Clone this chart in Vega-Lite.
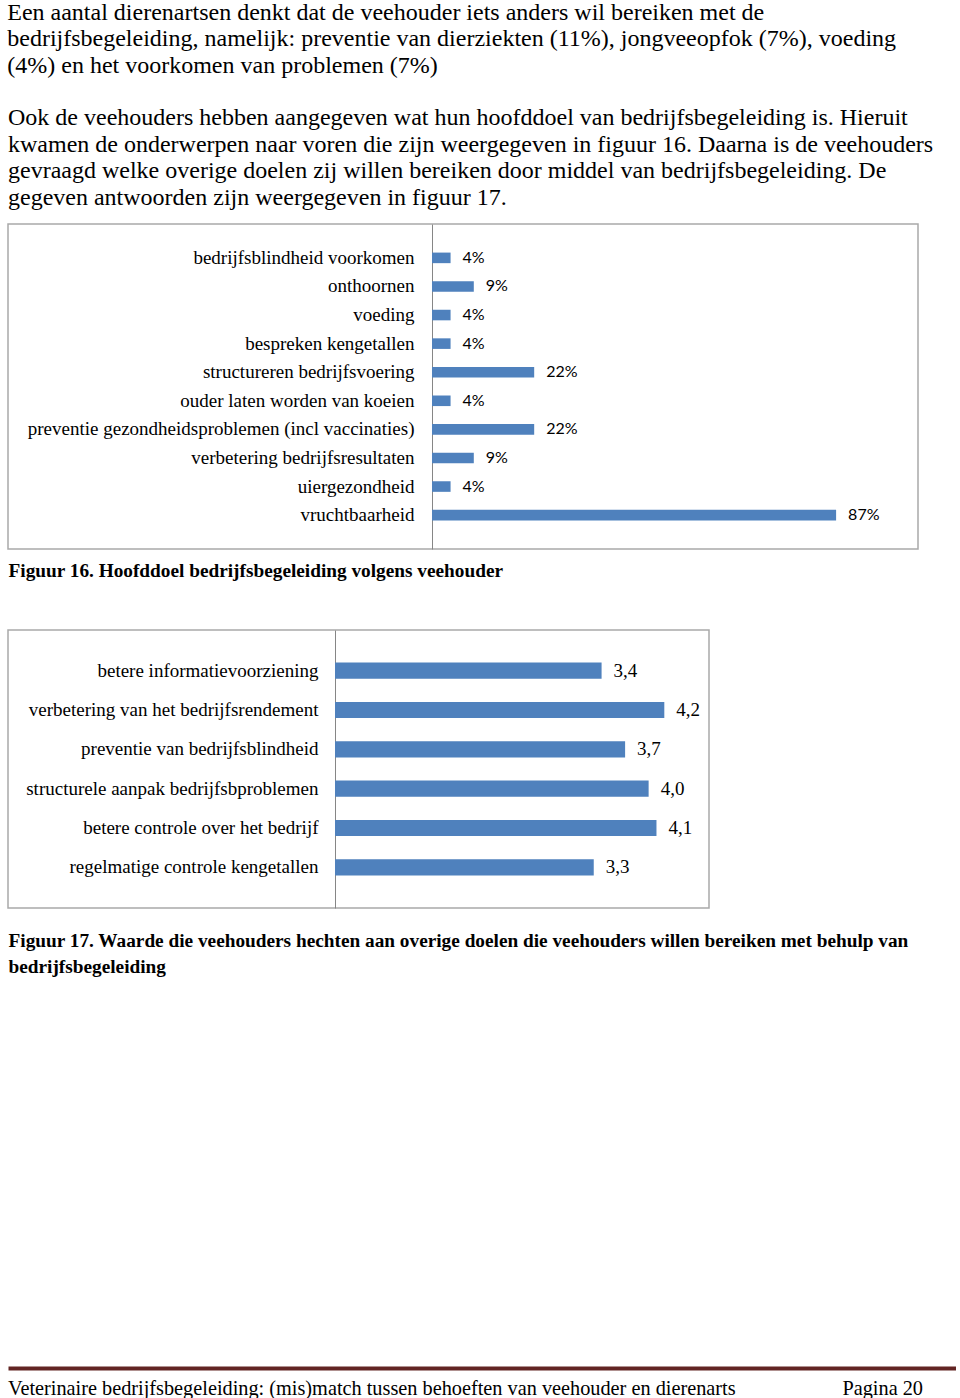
{
  "$schema": "https://vega.github.io/schema/vega-lite/v6.json",
  "background": "white",
  "padding": {"left": 7, "top": 0, "right": 0, "bottom": 0},
  "config": {
    "view": {"stroke": "#a9a9a9", "strokeWidth": 1.5},
    "font": "Liberation Serif"
  },
  "title": {
    "text": [
      "Een aantal dierenartsen denkt dat de veehouder iets anders wil bereiken met de",
      "bedrijfsbegeleiding, namelijk: preventie van dierziekten (11%), jongveeopfok (7%), voeding",
      "(4%) en het voorkomen van problemen (7%)"
    ],
    "anchor": "start",
    "font": "Liberation Serif",
    "fontSize": 24,
    "fontWeight": "normal",
    "lineHeight": 26.7,
    "color": "black",
    "offset": 27
  },
  "spacing": 47,
  "vconcat": [
    {
      "title": {
        "text": [
          "Ook de veehouders hebben aangegeven wat hun hoofddoel van bedrijfsbegeleiding is. Hieruit",
          "kwamen de onderwerpen naar voren die zijn weergegeven in figuur 16. Daarna is de veehouders",
          "gevraagd welke overige doelen zij willen bereiken door middel van bedrijfsbegeleiding. De",
          "gegeven antwoorden zijn weergegeven in figuur 17."
        ],
        "anchor": "start",
        "font": "Liberation Serif",
        "fontSize": 24,
        "fontWeight": "normal",
        "lineHeight": 26.7,
        "color": "black",
        "offset": 14
      },
      "width": 910,
      "height": 325,
      "data": {
        "values": [
          {"doel": "bedrijfsblindheid voorkomen", "pct": 4, "label": "4%"},
          {"doel": "onthoornen", "pct": 9, "label": "9%"},
          {"doel": "voeding", "pct": 4, "label": "4%"},
          {"doel": "bespreken kengetallen", "pct": 4, "label": "4%"},
          {"doel": "structureren bedrijfsvoering", "pct": 22, "label": "22%"},
          {"doel": "ouder laten worden van koeien", "pct": 4, "label": "4%"},
          {"doel": "preventie gezondheidsproblemen (incl vaccinaties)", "pct": 22, "label": "22%"},
          {"doel": "verbetering bedrijfsresultaten", "pct": 9, "label": "9%"},
          {"doel": "uiergezondheid", "pct": 4, "label": "4%"},
          {"doel": "vruchtbaarheid", "pct": 87, "label": "87%"}
        ]
      },
      "encoding": {
        "y": {
          "field": "doel",
          "type": "nominal",
          "sort": null,
          "scale": {"paddingInner": 0.63, "paddingOuter": 1.037},
          "axis": {
            "title": null,
            "offset": -424,
            "domainColor": "#868686",
            "domainWidth": 1,
            "ticks": false,
            "tickSize": 0,
            "labelPadding": 18,
            "labelFont": "Liberation Serif",
            "labelFontSize": 19,
            "labelColor": "black",
            "labelLimit": 600
          }
        },
        "x": {
          "field": "pct",
          "type": "quantitative",
          "scale": {"domain": [-91.28, 104.63], "nice": false, "zero": false},
          "axis": {
            "title": "Figuur 16. Hoofddoel bedrijfsbegeleiding volgens veehouder",
            "domain": false,
            "ticks": false,
            "labels": false,
            "grid": false,
            "titleAnchor": "start",
            "titleAlign": "left",
            "titleFont": "Liberation Serif",
            "titleFontSize": 19.3,
            "titleFontWeight": "bold",
            "titleColor": "black",
            "titlePadding": 12
          }
        }
      },
      "layer": [
        {"mark": {"type": "bar", "color": "#4f81bd"}, "encoding": {"x2": {"datum": 0}}},
        {
          "mark": {"type": "text", "align": "left", "baseline": "middle", "dx": 12, "font": "Lato", "fontSize": 16, "color": "black"},
          "encoding": {"text": {"field": "label"}}
        }
      ]
    },
    {
      "width": 701,
      "height": 278,
      "data": {
        "values": [
          {"doel": "betere informatievoorziening", "waarde": 3.4, "label": "3,4"},
          {"doel": "verbetering van het bedrijfsrendement", "waarde": 4.2, "label": "4,2"},
          {"doel": "preventie van bedrijfsblindheid", "waarde": 3.7, "label": "3,7"},
          {"doel": "structurele aanpak bedrijfsbproblemen", "waarde": 4.0, "label": "4,0"},
          {"doel": "betere controle over het bedrijf", "waarde": 4.1, "label": "4,1"},
          {"doel": "regelmatige controle kengetallen", "waarde": 3.3, "label": "3,3"}
        ]
      },
      "encoding": {
        "y": {
          "field": "doel",
          "type": "nominal",
          "sort": null,
          "scale": {"paddingInner": 0.59, "paddingOuter": 0.829},
          "axis": {
            "title": null,
            "offset": -327,
            "domainColor": "#868686",
            "domainWidth": 1,
            "ticks": false,
            "tickSize": 0,
            "labelPadding": 17,
            "labelFont": "Liberation Serif",
            "labelFontSize": 19,
            "labelColor": "black",
            "labelLimit": 600
          }
        },
        "x": {
          "field": "waarde",
          "type": "quantitative",
          "scale": {"domain": [-4.171, 4.77], "nice": false, "zero": false},
          "axis": {
            "title": [
              "Figuur 17. Waarde die veehouders hechten aan overige doelen die veehouders willen bereiken met behulp van",
              "bedrijfsbegeleiding"
            ],
            "domain": false,
            "ticks": false,
            "labels": false,
            "grid": false,
            "titleAnchor": "start",
            "titleAlign": "left",
            "titleFont": "Liberation Serif",
            "titleFontSize": 19.3,
            "titleFontWeight": "bold",
            "titleColor": "black",
            "titleLineHeight": 26,
            "titlePadding": 23
          }
        }
      },
      "layer": [
        {"mark": {"type": "bar", "color": "#4f81bd"}, "encoding": {"x2": {"datum": 0}}},
        {
          "mark": {"type": "text", "align": "left", "baseline": "middle", "dx": 12, "font": "Liberation Serif", "fontSize": 19, "color": "black"},
          "encoding": {"text": {"field": "label"}}
        }
      ]
    },
    {
      "title": {"text": " ", "fontSize": 2, "offset": 341},
      "width": 948,
      "height": 30,
      "view": {"stroke": null},
      "data": {
        "values": [
          {"pos": "links", "tekst": "Veterinaire bedrijfsbegeleiding: (mis)match tussen behoeften van veehouder en dierenarts"},
          {"pos": "rechts", "tekst": "Pagina 20"}
        ]
      },
      "encoding": {
        "x": {"field": "pos", "type": "nominal", "scale": {"type": "point", "padding": 0, "domain": ["links", "rechts"]},
          "axis": {"orient": "top", "title": null, "domain": true, "domainColor": "#622423", "domainWidth": 4, "ticks": false, "labels": false, "grid": false}},
        "text": {"field": "tekst"}
      },
      "layer": [
        {
          "transform": [{"filter": "datum.pos === 'links'"}],
          "mark": {"type": "text", "align": "left", "baseline": "middle", "dy": 6, "font": "Liberation Serif", "fontSize": 20.3, "color": "black"}
        },
        {
          "transform": [{"filter": "datum.pos === 'rechts'"}],
          "mark": {"type": "text", "align": "right", "baseline": "middle", "dx": -33, "dy": 6, "font": "Liberation Serif", "fontSize": 20.3, "color": "black"}
        }
      ]
    }
  ]
}
